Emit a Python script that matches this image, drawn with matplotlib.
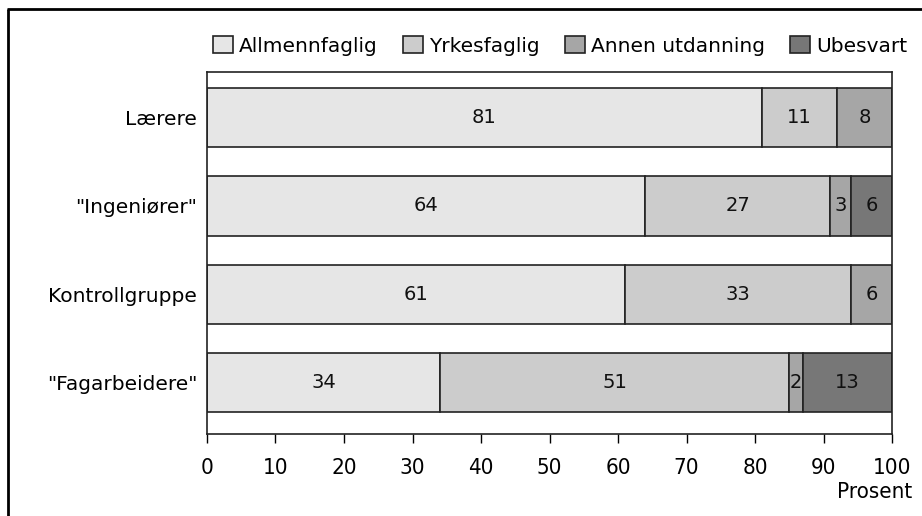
import matplotlib
matplotlib.use("Agg")
import matplotlib.pyplot as plt
from matplotlib.lines import Line2D
import numpy as np

grupper = ["Lærere", '"Ingeniører"', "Kontrollgruppe", '"Fagarbeidere"']
serier = ["Allmennfaglig", "Yrkesfaglig", "Annen utdanning", "Ubesvart"]
allmenn = [81, 64, 61, 34]
yrkes = [11, 27, 33, 51]
annen = [8, 3, 6, 2]
ubesvart = [0, 6, 0, 13]
farger = ["#e6e6e6", "#cccccc", "#a6a6a6", "#777777"]
xticks = [0, 10, 20, 30, 40, 50, 60, 70, 80, 90, 100]

plt.rcParams["font.family"] = ["DejaVu Sans"]

fig = plt.figure(figsize=(9.22, 5.16), dpi=100)
ax = fig.add_axes([0.2245, 0.1589, 0.743, 0.7016])

y = np.arange(len(grupper))
venstre = np.zeros(len(grupper))
for navn, verdier, farge in zip(serier, [allmenn, yrkes, annen, ubesvart], farger):
    verdier = np.array(verdier, dtype=float)
    ax.barh(y, verdier, left=venstre, height=0.67, color=farge,
            edgecolor="#222222", linewidth=1.2, label=navn)
    for yi, v, l in zip(y, verdier, venstre):
        if v > 0:
            ax.text(l + v / 2, yi, f"{v:g}", ha="center", va="center",
                    fontsize=14, color="#111111")
    venstre += verdier

ax.set_xlim(0, 100)
ax.set_ylim(3.58, -0.515)
ax.set_yticks(y)
ax.set_yticklabels(grupper, fontsize=14.5)
ax.tick_params(axis="y", length=0, pad=7)
ax.set_xticks(xticks)
ax.set_xticklabels([str(t) for t in xticks], fontsize=16, fontstretch="condensed")
ax.tick_params(axis="x", direction="out", length=6.5, width=1.0, pad=11)
for s in ax.spines.values():
    s.set_linewidth(1.2)
    s.set_color("#222222")

fig.text(912 / 922, 1 - 492 / 516, "Prosent", ha="right", va="center",
         fontsize=16, fontstretch="condensed")

fig.legend(loc="center", bbox_to_anchor=(560 / 922, 1 - 46 / 516),
           bbox_transform=fig.transFigure, ncol=4, frameon=False,
           fontsize=14.5, handlelength=1.0, handleheight=0.9,
           handletextpad=0.3, columnspacing=1.25, borderpad=0, borderaxespad=0)

# ramme rundt figuren (venstre og topp)
fig.add_artist(Line2D([7.5 / 922, 7.5 / 922], [0, 1 - 9 / 516], color="black",
                      linewidth=2, transform=fig.transFigure, solid_capstyle="butt"))
fig.add_artist(Line2D([6.5 / 922, 1], [1 - 9 / 516, 1 - 9 / 516], color="black",
                      linewidth=2, transform=fig.transFigure, solid_capstyle="butt"))

fig.savefig("out.png", dpi=100)
